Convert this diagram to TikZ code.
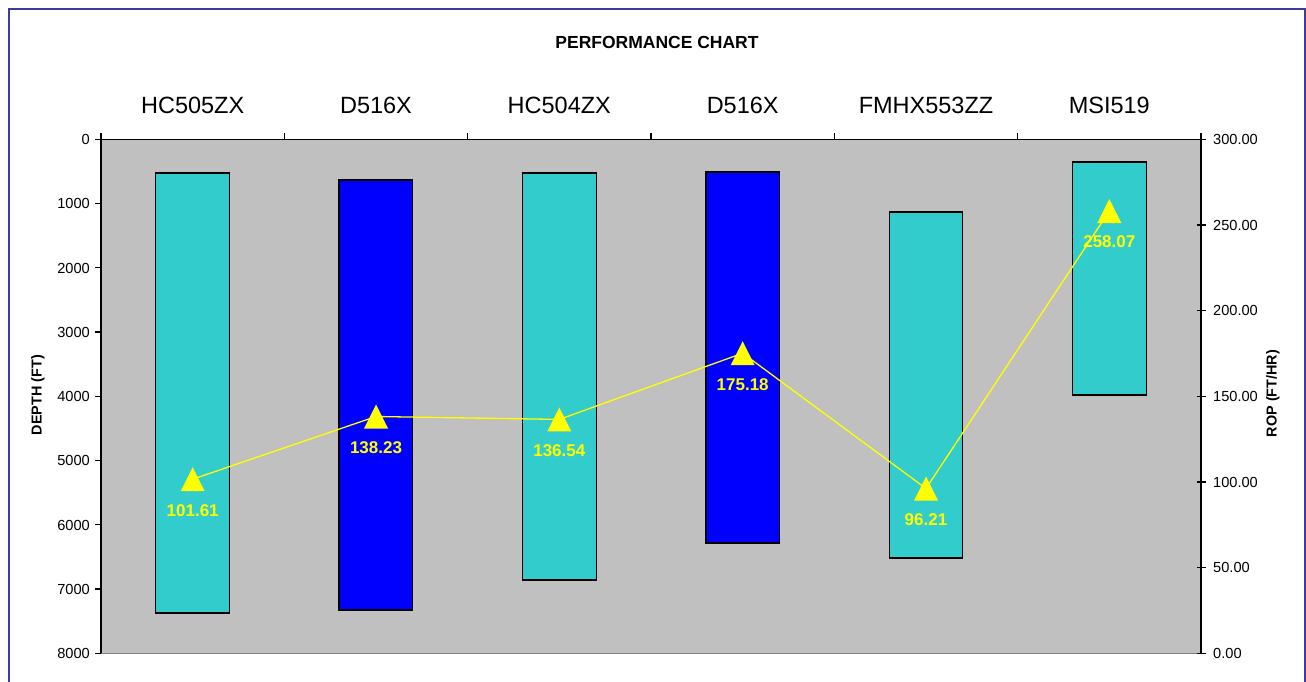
\documentclass[tikz,border=0pt]{standalone}
\usepackage{fontspec}
\setmainfont{Liberation Sans}
\usetikzlibrary{calc}
\definecolor{barcyan}{RGB}{51,204,204}
\definecolor{barblue}{RGB}{0,0,255}
\definecolor{plotgrey}{RGB}{192,192,192}
\definecolor{frameblue}{RGB}{60,60,155}
\definecolor{markyellow}{RGB}{255,255,0}
\begin{document}
\begin{tikzpicture}[x=1pt,y=-1pt,
  cyanbar/.style={fill=barcyan,draw=black,line width=1.2pt},
  bluebar/.style={fill=barblue,draw=black,line width=1.2pt},
  axisline/.style={draw=black,line width=1.2pt},
  ropline/.style={draw=markyellow,line width=1.3pt},
  marker/.style={fill=markyellow},
  vallabel/.style={text=markyellow,font=\fontsize{17}{17}\selectfont\bfseries,anchor=base,inner sep=0pt},
  catlabel/.style={font=\fontsize{23.5}{23.5}\selectfont,anchor=base,inner sep=0pt},
  ticklabel/.style={font=\fontsize{14.6}{14.6}\selectfont,inner sep=0pt},
  axtitle/.style={font=\fontsize{14.4}{14.4}\selectfont\bfseries,rotate=90,inner sep=0pt}]
\useasboundingbox (0,0) rectangle (1306,681);
\fill[white] (0,0) rectangle (1306,681);
\begin{scope}
\clip (0,0) rectangle (1306,681);
\draw[frameblue,line width=2pt] (9,9) rectangle (1305,700);
\end{scope}
% plot area
\fill[plotgrey] (101,139.3) rectangle (1201,653.3);
\draw[gray,line width=1pt] (101,653.3) -- (1201,653.3);
% bars
\draw[cyanbar] (155.7,173) rectangle (229.3,613);
\draw[bluebar] (339,180) rectangle (412.6,610);
\draw[cyanbar] (522.6,173) rectangle (596.2,580);
\draw[bluebar] (705.9,172) rectangle (779.5,543);
\draw[cyanbar] (889.2,212) rectangle (962.8,558);
\draw[cyanbar] (1072.5,162) rectangle (1146.1,395);
% axes
\draw[axisline] (101,133) -- (101,653.3);
\draw[axisline] (1201,133) -- (1201,653.3);
\draw[axisline] (101,139.3) -- (1201,139.3);
\foreach \x in {284.3,467.7,651,834.3,1017.7}{\draw[axisline] (\x,133) -- (\x,139.3);}
% left ticks
\foreach \d [count=\i from 0] in {0,1000,2000,3000,4000,5000,6000,7000,8000}{
  \pgfmathsetmacro{\yy}{139.3+64.25*\i}
  \draw[axisline] (95,\yy) -- (101,\yy);
  \node[ticklabel,anchor=base east] (lt\i) at (90,\yy+5.2) {\d};
}
% right ticks
\foreach \r [count=\i from 0] in {0.00,50.00,100.00,150.00,200.00,250.00,300.00}{
  \pgfmathsetmacro{\yy}{653.3-85.667*\i}
  \draw[axisline] (1196.5,\yy) -- (1205.5,\yy);
  \node[ticklabel,anchor=base west] (rt\i) at (1213,\yy+5.2) {\r};
}
% titles
\node[font=\fontsize{17.5}{17.5}\selectfont\bfseries,anchor=base,inner sep=0pt] (title) at (657,48.3) {PERFORMANCE CHART};
\node[catlabel] (c1) at (192.7,113) {HC505ZX};
\node[catlabel] (c2) at (376,113) {D516X};
\node[catlabel] (c3) at (559.3,113) {HC504ZX};
\node[catlabel] (c4) at (742.7,113) {D516X};
\node[catlabel] (c5) at (926,113) {FMHX553ZZ};
\node[catlabel] (c6) at (1109.3,113) {MSI519};
\node[axtitle] (yl) at (38,395) {DEPTH (FT)};
\node[axtitle] (yr) at (1273,393.5) {ROP (FT/HR)};
% ROP series
\coordinate (m1) at (192.7,479.2);
\coordinate (m2) at (376,416.5);
\coordinate (m3) at (559.3,419.4);
\coordinate (m4) at (742.7,353.2);
\coordinate (m5) at (926,488.5);
\coordinate (m6) at (1109.3,211.1);
\draw[ropline] (m1) -- (m2) -- (m3) -- (m4) -- (m5) -- (m6);
\foreach \m in {m1,m2,m3,m4,m5,m6}{
  \fill[marker] (\m) ++(0,-12) -- ++(12,24) -- ++(-24,0) -- cycle;
}
\node[vallabel] (v1) at ($(m1)+(0,36.8)$) {101.61};
\node[vallabel] (v2) at ($(m2)+(0,36.8)$) {138.23};
\node[vallabel] (v3) at ($(m3)+(0,36.8)$) {136.54};
\node[vallabel] (v4) at ($(m4)+(0,36.8)$) {175.18};
\node[vallabel] (v5) at ($(m5)+(0,36.8)$) {96.21};
\node[vallabel] (v6) at ($(m6)+(0,36.8)$) {258.07};
\end{tikzpicture}
\end{document}
